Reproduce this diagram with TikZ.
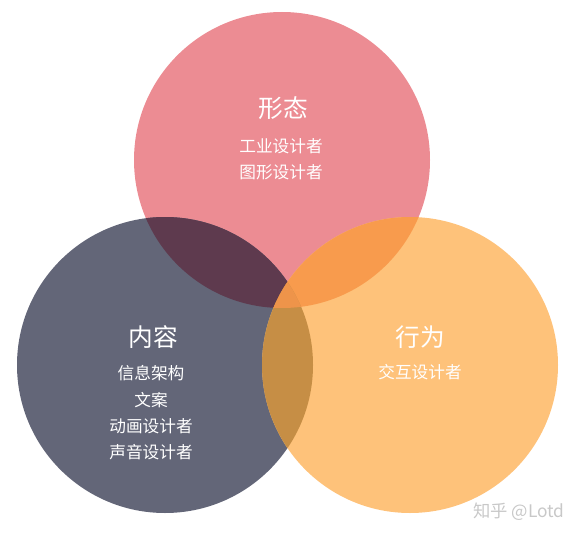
\documentclass[tikz,border=0pt]{standalone}
\usepackage{fontspec}
\setmainfont{Noto Sans CJK SC}

\tikzset{every picture/.style={line width=0.75pt}}

\begin{document}
\begin{tikzpicture}[x=0.75pt,y=0.75pt,yscale=-1,xscale=1]
%set diagram left start at 0, and has height of 535
\useasboundingbox (0,0) rectangle (582,535);

%Shape: Circle [id:form] 
\fill [color={rgb, 255:red, 236; green, 140; blue, 147 }  ,fill opacity=1 ] (282,160) circle (148) ;
%Shape: Circle [id:content] 
\fill [color={rgb, 255:red, 99; green, 102; blue, 120 }  ,fill opacity=1 ] (165,365) circle (148) ;
%Shape: Circle [id:behaviour] 
\fill [color={rgb, 255:red, 254; green, 194; blue, 122 }  ,fill opacity=1 ] (410,365) circle (148) ;

%Overlap: form and content
\begin{scope}
\clip (282,160) circle (148) ;
\fill [color={rgb, 255:red, 94; green, 58; blue, 78 }  ] (165,365) circle (148) ;
\end{scope}
%Overlap: form and behaviour
\begin{scope}
\clip (282,160) circle (148) ;
\fill [color={rgb, 255:red, 248; green, 155; blue, 77 }  ] (410,365) circle (148) ;
\end{scope}
%Overlap: content and behaviour
\begin{scope}
\clip (165,365) circle (148) ;
\fill [color={rgb, 255:red, 198; green, 142; blue, 69 }  ] (410,365) circle (148) ;
\end{scope}
%Overlap: all three
\begin{scope}
\clip (282,160) circle (148) ;
\clip (165,365) circle (148) ;
\fill [color={rgb, 255:red, 238; green, 148; blue, 74 }  ] (410,365) circle (148) ;
\end{scope}

% Text Node
\draw (283,108) node (formTitle) [inner sep=0.75pt]  [color={rgb, 255:red, 255; green, 255; blue, 255 }  ,opacity=1 ,font=\fontsize{18.5}{22}\selectfont]  {形态};
% Text Node
\draw (281,146) node (formA) [inner sep=0.75pt]  [color={rgb, 255:red, 255; green, 255; blue, 255 }  ,opacity=1 ,font=\fontsize{12.5}{15}\selectfont]  {工业设计者};
% Text Node
\draw (281,172) node (formB) [inner sep=0.75pt]  [color={rgb, 255:red, 255; green, 255; blue, 255 }  ,opacity=1 ,font=\fontsize{12.5}{15}\selectfont]  {图形设计者};

% Text Node
\draw (153,337) node (contentTitle) [inner sep=0.75pt]  [color={rgb, 255:red, 255; green, 255; blue, 255 }  ,opacity=1 ,font=\fontsize{18.5}{22}\selectfont]  {内容};
% Text Node
\draw (151,373) node (contentA) [inner sep=0.75pt]  [color={rgb, 255:red, 255; green, 255; blue, 255 }  ,opacity=1 ,font=\fontsize{12.5}{15}\selectfont]  {信息架构};
% Text Node
\draw (151,400) node (contentB) [inner sep=0.75pt]  [color={rgb, 255:red, 255; green, 255; blue, 255 }  ,opacity=1 ,font=\fontsize{12.5}{15}\selectfont]  {文案};
% Text Node
\draw (151,426) node (contentC) [inner sep=0.75pt]  [color={rgb, 255:red, 255; green, 255; blue, 255 }  ,opacity=1 ,font=\fontsize{12.5}{15}\selectfont]  {动画设计者};
% Text Node
\draw (151,452) node (contentD) [inner sep=0.75pt]  [color={rgb, 255:red, 255; green, 255; blue, 255 }  ,opacity=1 ,font=\fontsize{12.5}{15}\selectfont]  {声音设计者};

% Text Node
\draw (420,337) node (behaviourTitle) [inner sep=0.75pt]  [color={rgb, 255:red, 255; green, 255; blue, 255 }  ,opacity=1 ,font=\fontsize{18.5}{22}\selectfont]  {行为};
% Text Node
\draw (420,372) node (behaviourA) [inner sep=0.75pt]  [color={rgb, 255:red, 255; green, 255; blue, 255 }  ,opacity=1 ,font=\fontsize{12.5}{15}\selectfont]  {交互设计者};

% Text Node
\draw (519,512) node (watermark) [inner sep=0.75pt]  [color={rgb, 255:red, 200; green, 200; blue, 200 }  ,opacity=1 ,font=\fontsize{13}{15}\selectfont]  {知乎 @Lotd};

\end{tikzpicture}
\end{document}
